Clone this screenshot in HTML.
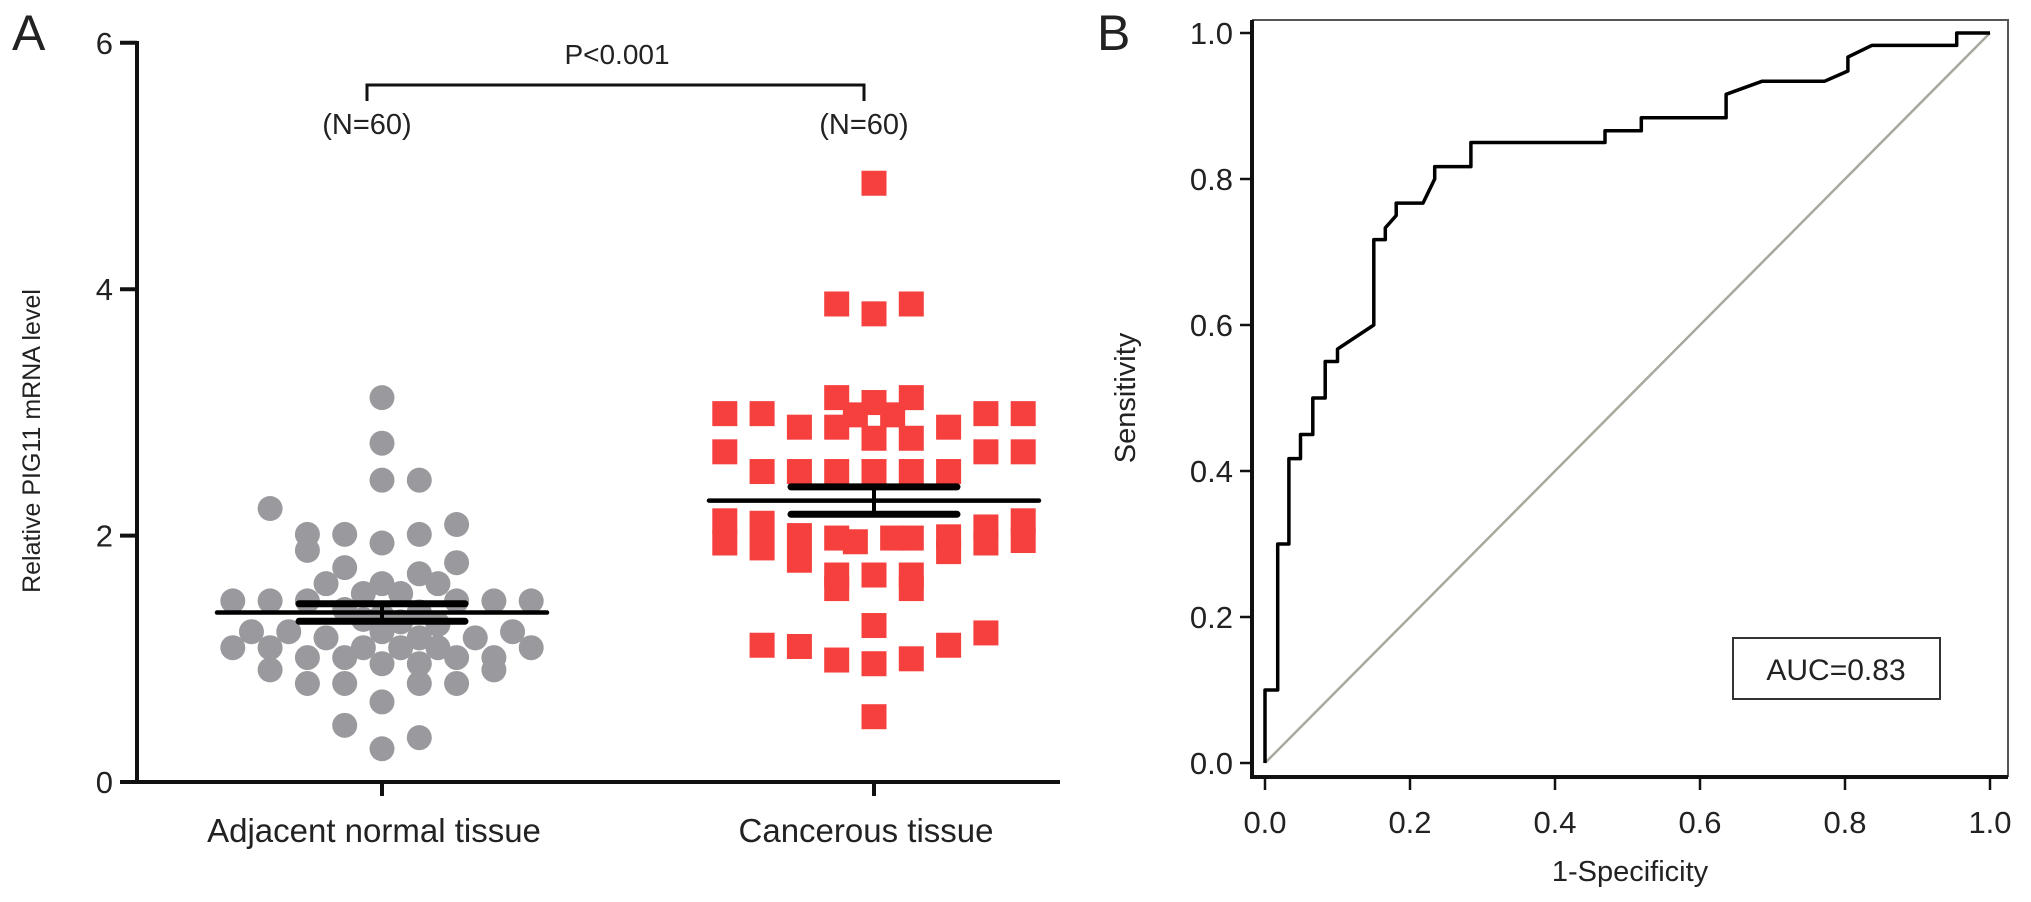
<!DOCTYPE html>
<html><head><meta charset="utf-8"><style>
html,body{margin:0;padding:0;background:#fff;}
svg{display:block;font-family:"Liberation Sans",Arial,sans-serif;}
</style></head><body>
<svg id="fig" width="2031" height="902" viewBox="0 0 2031 902">
  <text x="12" y="50" font-size="50" fill="#222">A</text>
  <text x="1097" y="50" font-size="50" fill="#222">B</text>
  <g id="panelA"></g>
  <g id="panelB"></g>
</svg>
<script>
// ---------- Panel A data ----------
const groupNames = ["Adjacent normal tissue", "Cancerous tissue"];
const yTicksA = [0, 2, 4, 6];
const normalValues = [3.12,2.75,2.45,2.45,2.22,2.09,2.01,2.01,2.01,1.94,1.88,1.78,1.74,1.69,1.61,1.61,1.61,1.53,1.53,
  1.47,1.47,1.47,1.47,1.47,1.47,1.40,1.38,1.35,1.32,1.30,1.28,1.22,1.22,1.22,1.22,1.17,1.17,1.17,
  1.09,1.09,1.09,1.09,1.09,1.09,1.01,1.01,1.01,1.01,0.96,0.96,0.91,0.91,0.80,0.80,0.80,0.80,0.65,0.46,0.36,0.27];
const normalSlots = [0,0,0,1,-3,2,-2,-1,1,0,-2,2,-1,1,0,-1.5,1.5,-0.5,0.5,
  -4,-3,3,4,2,-2,-1,1,0,-0.5,0.5,1.5,-3.5,-2.5,3.5,0,-1.5,2.5,1,
  -4,-3,-0.5,0.5,1.5,4,-2,-1,2,3,0,1,-3,3,-2,-1,1,2,0,-1,1,0];
const cancerValues = [4.86,3.88,3.88,3.80,3.12,3.08,3.12,2.98,2.98,2.99,2.99,2.99,2.99,2.88,2.88,2.88,2.79,2.79,
  2.68,2.68,2.68,2.52,2.52,2.52,2.52,2.52,2.52,
  2.12,1.94,2.10,1.90,2.00,1.80,1.98,1.95,1.98,1.98,1.99,1.87,2.07,1.94,2.12,1.96,
  1.68,1.57,1.68,1.68,1.57,1.27,1.11,1.10,1.11,1.21,0.99,0.96,1.00,0.53];
const cancerSlots = [0,-1,1,0,-1,0,1,-0.5,0.5,-4,-3,3,4,-2,2,-1,0,1,
  -4,3,4,-3,-2,-1,0,1,2,
  -4,-4,-3,-3,-2,-2,-1,-0.5,0.5,1,2,2,3,3,4,4,
  -1,-1,0,1,1,0,-3,-2,2,3,-1,0,1,0];
// ---------- Panel B data ----------
const rocFpr = [0,0,0.0175,0.0175,0.033,0.033,0.049,0.049,0.066,0.066,0.083,0.083,0.10,0.10,0.15,0.15,0.166,0.166,0.181,0.181,0.218,0.234,0.234,0.284,0.284,0.469,0.469,0.519,0.519,0.636,0.636,0.686,0.772,0.804,0.804,0.837,0.954,0.954,1.0];
const rocTpr = [0,0.1,0.1,0.3,0.3,0.417,0.417,0.45,0.45,0.5,0.5,0.55,0.55,0.567,0.6,0.717,0.717,0.733,0.75,0.767,0.767,0.8,0.817,0.817,0.85,0.85,0.866,0.866,0.884,0.884,0.916,0.934,0.934,0.948,0.967,0.983,0.983,1.0,1.0];
const rocTicks = [0.0,0.2,0.4,0.6,0.8,1.0];
const aucText = "AUC=0.83";

const NS = "http://www.w3.org/2000/svg";
function mk(tag, attrs, parent, txt){
  const e = document.createElementNS(NS, tag);
  for (const k in attrs) e.setAttribute(k, attrs[k]);
  if (txt !== undefined) e.textContent = txt;
  parent.appendChild(e);
  return e;
}
// ---------- Panel A ----------
const A = document.getElementById('panelA');
const yA = v => 782 - v * 123.2;
const groupX = [382, 874];
const slotW = 37.3;
const axisA = mk('path', {d:'M137,41 V782 H1060', fill:'none', stroke:'#111', 'stroke-width':4}, A);


yTicksA.forEach(t => {
  const l = mk('line', {x1:120, x2:137, y1:yA(t), y2:yA(t), stroke:'#111', 'stroke-width':4}, A);
  
  
  const tx = mk('text', {x:113, y:yA(t)+11, 'font-size':31, 'text-anchor':'end', fill:'#222'}, A, String(t));
  
  
});
groupNames.forEach((g, i) => {
  const l = mk('line', {x1:groupX[i], x2:groupX[i], y1:782, y2:796, stroke:'#111', 'stroke-width':4}, A);
  
  
  const tx = mk('text', {x:groupX[i]-8, y:842, 'font-size':33, 'text-anchor':'middle', fill:'#222'}, A, g);
  
  
});
const yTitle = mk('text', {x:0, y:0, 'font-size':25, 'text-anchor':'middle', fill:'#222', transform:'translate(40,441) rotate(-90)'}, A, 'Relative PIG11 mRNA level');


// points
normalValues.forEach((v, i) => {
  const c = mk('circle', {cx: groupX[0] + normalSlots[i]*slotW, cy: yA(v), r:12.5, fill:'#9a9a9e'}, A);
  
  
});
cancerValues.forEach((v, i) => {
  const r = mk('rect', {x: groupX[1] + cancerSlots[i]*slotW - 12.5, y: yA(v) - 12.5, width:25, height:25, fill:'#f5403e'}, A);
  
  
});
// mean and SEM
[normalValues, cancerValues].forEach((arr, i) => {
  const n = arr.length;
  const mean = arr.reduce((a,b)=>a+b,0)/n;
  const sd = Math.sqrt(arr.reduce((a,b)=>a+(b-mean)*(b-mean),0)/(n-1));
  const sem = sd/Math.sqrt(n);
  const cx = groupX[i];
  const m = mk('line', {x1:cx-165, x2:cx+165, y1:yA(mean), y2:yA(mean), stroke:'#000', 'stroke-width':4.5, 'stroke-linecap':'round'}, A);
  
  
  [mean+sem, mean-sem].forEach(s => {
    const e = mk('line', {x1:cx-83, x2:cx+83, y1:yA(s), y2:yA(s), stroke:'#000', 'stroke-width':7, 'stroke-linecap':'round'}, A);
    
    
  });
  const v = mk('line', {x1:cx, x2:cx, y1:yA(mean+sem), y2:yA(mean-sem), stroke:'#000', 'stroke-width':4}, A);
  
  
});
// significance bracket
const br = mk('path', {d:'M367,101 V85 H864 V101', fill:'none', stroke:'#111', 'stroke-width':3}, A);


const pt = mk('text', {x:617, y:64, 'font-size':28, 'text-anchor':'middle', fill:'#222'}, A, 'P<0.001');


[367, 864].forEach(x => {
  const t = mk('text', {x:x, y:134, 'font-size':29, 'text-anchor':'middle', fill:'#222'}, A, '(N=60)');
  
  
});
// ---------- Panel B ----------
const B = document.getElementById('panelB');
const xB = v => 1265 + v*725;
const yB = v => 763 - v*730;
const frame = mk('path', {d:'M1252,20 H2008 V777', fill:'none', stroke:'#555', 'stroke-width':2}, B);


const axB = mk('path', {d:'M1252,20 V777 H2008', fill:'none', stroke:'#111', 'stroke-width':4}, B);


rocTicks.forEach(t => {
  const l1 = mk('line', {x1:1240, x2:1252, y1:yB(t), y2:yB(t), stroke:'#111', 'stroke-width':2.5}, B);
  
  
  const t1 = mk('text', {x:1233, y:yB(t)+11, 'font-size':31, 'text-anchor':'end', fill:'#222'}, B, t.toFixed(1));
  
  
  const l2 = mk('line', {x1:xB(t), x2:xB(t), y1:777, y2:790, stroke:'#111', 'stroke-width':2.5}, B);
  
  
  const t2 = mk('text', {x:xB(t), y:833, 'font-size':31, 'text-anchor':'middle', fill:'#222'}, B, t.toFixed(1));
  
  
});
const xt = mk('text', {x:1630, y:881, 'font-size':29, 'text-anchor':'middle', fill:'#222'}, B, '1-Specificity');


const yt = mk('text', {x:0, y:0, 'font-size':29, 'text-anchor':'middle', fill:'#222', transform:'translate(1135,398) rotate(-90)'}, B, 'Sensitivity');


const diag = mk('line', {x1:xB(0), y1:yB(0), x2:xB(1), y2:yB(1), stroke:'#a8a89e', 'stroke-width':2.5}, B);


const d = rocFpr.map((f, i) => (i ? 'L' : 'M') + xB(f).toFixed(1) + ',' + yB(rocTpr[i]).toFixed(1)).join(' ');
const roc = mk('path', {d:d, fill:'none', stroke:'#000', 'stroke-width':3.5, 'stroke-linejoin':'round'}, B);


const box = mk('rect', {x:1733, y:638, width:207, height:61, fill:'#fff', stroke:'#333', 'stroke-width':2}, B);


const at = mk('text', {x:1836, y:680, 'font-size':30, 'text-anchor':'middle', fill:'#222'}, B, aucText);


</script>
</body></html>
